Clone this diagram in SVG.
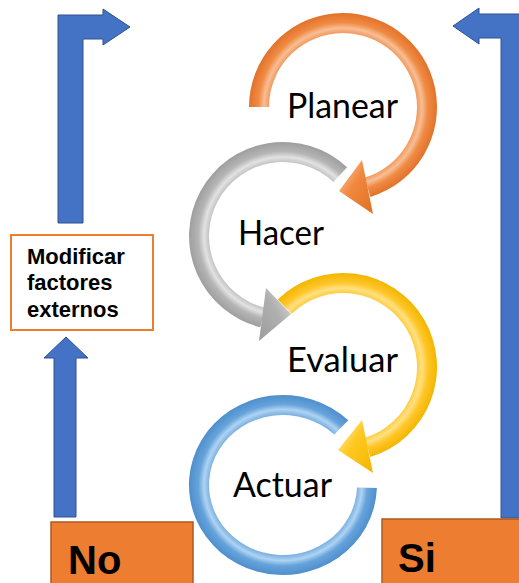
<svg xmlns="http://www.w3.org/2000/svg" width="519" height="583" viewBox="0 0 519 583">
<style>
.blue{fill:#4472C4;stroke:#2F528F;stroke-width:1}
.obox{fill:#ED7D31;stroke:#AE5A21;stroke-width:1.5}
.big{font-family:"Liberation Sans",Arial,sans-serif;font-weight:bold;font-size:40px;fill:#000}
.lbl{font-family:"Liberation Sans",Arial,sans-serif;font-weight:bold;font-size:22px;fill:#000}
.step{font-family:Lato,"Noto Sans",sans-serif;font-size:34px;fill:#000}
</style>
<defs>
<radialGradient id="gOr" gradientUnits="userSpaceOnUse" cx="343" cy="107" r="94">
<stop offset="0.787" stop-color="#F29A5C"/><stop offset="0.84" stop-color="#F7BE95"/><stop offset="0.9" stop-color="#F08B44"/><stop offset="1" stop-color="#E2722A"/>
</radialGradient>
<radialGradient id="gGr" gradientUnits="userSpaceOnUse" cx="283" cy="236" r="94">
<stop offset="0.787" stop-color="#C4C4C4"/><stop offset="0.84" stop-color="#E2E2E2"/><stop offset="0.9" stop-color="#B5B5B5"/><stop offset="1" stop-color="#9E9E9E"/>
</radialGradient>
<radialGradient id="gYe" gradientUnits="userSpaceOnUse" cx="343" cy="367" r="94">
<stop offset="0.787" stop-color="#FFCD44"/><stop offset="0.84" stop-color="#FFE182"/><stop offset="0.9" stop-color="#FFC62A"/><stop offset="1" stop-color="#F2B600"/>
</radialGradient>
<radialGradient id="gBl" gradientUnits="userSpaceOnUse" cx="0" cy="0" r="94" gradientTransform="translate(283,485) scale(1,0.957)">
<stop offset="0.787" stop-color="#7FB3E2"/><stop offset="0.84" stop-color="#AED3F2"/><stop offset="0.9" stop-color="#66A3DB"/><stop offset="1" stop-color="#4E8FCC"/>
</radialGradient>
<linearGradient id="hOr" x1="0" y1="0" x2="1" y2="1"><stop offset="0" stop-color="#FBD3B5"/><stop offset="0.45" stop-color="#F0883F"/><stop offset="1" stop-color="#E0701F"/></linearGradient>
<linearGradient id="hGr" x1="1" y1="0" x2="0" y2="1"><stop offset="0" stop-color="#E0E0E0"/><stop offset="0.45" stop-color="#B0B0B0"/><stop offset="1" stop-color="#9C9C9C"/></linearGradient>
<linearGradient id="hYe" x1="0" y1="0" x2="1" y2="1"><stop offset="0" stop-color="#FFF0B8"/><stop offset="0.45" stop-color="#FFC820"/><stop offset="1" stop-color="#F2B500"/></linearGradient>
</defs>
<rect width="519" height="583" fill="#FFFFFF"/>

<g id="connectors">
<polygon class="blue" points="58,223 58,15 103,15 103,9 130,27 103,45 103,39 83,39 83,223"/>
<polygon class="blue" points="526,14 479,14 479,8 453,26 479,44 479,38 501,38 501,518 526,518"/>
<polygon class="blue" points="66,337 88,358 76,358 76,517 54,517 54,358 44,358"/>
</g>

<g id="hacer">
<path fill="url(#gGr)" d="M347.1,167.2 A94,94 0 1,0 260.3,327.2 L265.1,307.8 A74,74 0 1,1 333.5,181.9 Z"/>
<polygon fill="url(#hGr)" points="266,288 291,314 259,341"/>
<text class="step" x="238" y="245" textLength="86" lengthAdjust="spacingAndGlyphs">Hacer</text>
</g>

<g id="planear">
<path fill="url(#gOr)" d="M249,107 A94,94 0 1,1 370.5,196.9 L364.6,177.8 A74,74 0 1,0 269,107 Z"/>
<polygon fill="url(#hOr)" points="362,160 373,214 339,191"/>
<text class="step" x="287" y="118" textLength="111" lengthAdjust="spacingAndGlyphs">Planear</text>
</g>

<g id="actuar">
<path fill="url(#gBl)" d="M376.9,488.1 A94,90 0 1,1 348.3,420.3 L334.4,434.6 A74,70 0 1,0 357,487.4 Z"/>
<text class="step" x="233" y="497" textLength="99" lengthAdjust="spacingAndGlyphs">Actuar</text>
</g>

<g id="evaluar">
<path fill="url(#gYe)" d="M277.7,299.4 A94,94 0 1,1 370.5,456.9 L364.6,437.8 A74,74 0 1,0 291.6,313.8 Z"/>
<polygon fill="url(#hYe)" points="362,420 373,473 338,450"/>
<text class="step" x="287" y="372" textLength="111" lengthAdjust="spacingAndGlyphs">Evaluar</text>
</g>

<g id="modificar">
<rect x="11" y="235" width="142" height="95" fill="#FFFFFF" stroke="#ED7D31" stroke-width="2"/>
<text class="lbl" x="27" y="264">Modificar</text>
<text class="lbl" x="27" y="290">factores</text>
<text class="lbl" x="27" y="317">externos</text>
</g>

<g id="no">
<rect class="obox" x="51" y="522" width="142" height="70"/>
<text class="big" x="68" y="574">No</text>
</g>

<g id="si">
<rect class="obox" x="382" y="519" width="150" height="70"/>
<text class="big" x="398" y="572">Si</text>
</g>
</svg>
